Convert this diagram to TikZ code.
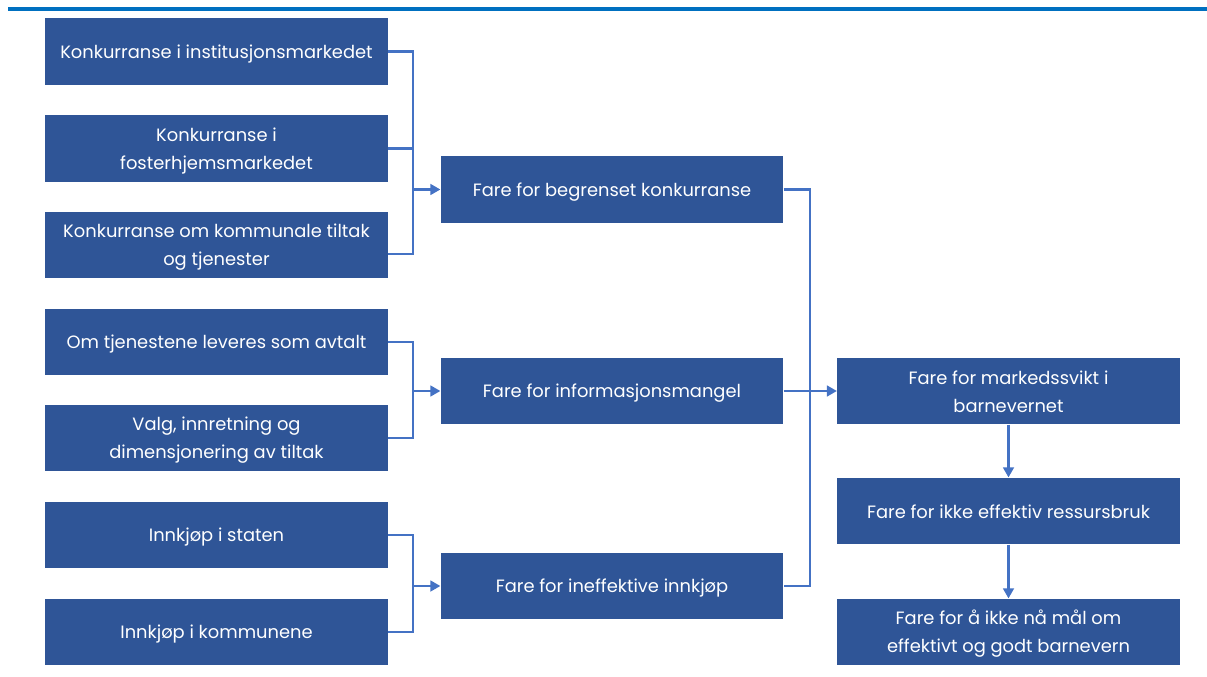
\documentclass[tikz,border=0pt]{standalone}
\usepackage{fontspec}
\setmainfont{Poppins}
\usetikzlibrary{arrows.meta,calc}
\definecolor{boxfill}{HTML}{2F5597}
\definecolor{conncol}{HTML}{4472C4}
\definecolor{topline}{HTML}{0070C0}
\newcommand{\ls}{\rule[-2.5pt]{0pt}{16pt}}
\tikzset{
  box/.style={draw=none, fill=boxfill, text=white, align=center,
    minimum width=257pt, minimum height=50pt, inner sep=0pt,
    font=\fontsize{13.4}{21}\selectfont},
  conn/.style={draw=conncol, line width=1.8pt},
  arr/.style={conn, -{Triangle[length=7.5pt,width=8pt]}}
}
\begin{document}
\begin{tikzpicture}[x=0.75pt,y=-0.75pt]
\useasboundingbox (0,0) rectangle (1207,677);
\draw[topline, line width=3pt] (8,9) -- (1207,9);
% left column
\node[box] (b1) at (216.5,51.5) {\ls Konkurranse i institusjonsmarkedet};
\node[box] (b2) at (216.5,148.5) {\ls Konkurranse i\\\ls fosterhjemsmarkedet};
\node[box] (b3) at (216.5,245) {\ls Konkurranse om kommunale tiltak\\\ls og tjenester};
\node[box] (b4) at (216.5,342) {\ls Om tjenestene leveres som avtalt};
\node[box] (b5) at (216.5,438) {\ls Valg, innretning og\\\ls dimensjonering av tiltak};
\node[box] (b6) at (216.5,535) {\ls Innkjøp i staten};
\node[box] (b7) at (216.5,632) {\ls Innkjøp i kommunene};
% middle column
\node[box] (mA) at (612,189.5) {\ls Fare for begrenset konkurranse};
\node[box] (mB) at (612,391) {\ls Fare for informasjonsmangel};
\node[box] (mC) at (612,586) {\ls Fare for ineffektive innkjøp};
% right column
\node[box] (r1) at (1008.5,391) {\ls Fare for markedssvikt i\\\ls barnevernet};
\node[box] (r2) at (1008.5,511) {\ls Fare for ikke effektiv ressursbruk};
\node[box] (r3) at (1008.5,632) {\ls Fare for å ikke nå mål om\\\ls effektivt og godt barnevern};
% junctions
\coordinate (j1) at (413,189.5);
\coordinate (j2) at (413,391);
\coordinate (j3) at (413,586);
\coordinate (j4) at (810,391);
% bracket 1
\draw[conn] (b1.east) -| (j1) |- ([yshift=-6.75pt]b3.east);
\draw[conn] (b2.east) -- (b2.east -| j1);
\draw[arr] (j1) -- (mA.west);
% bracket 2
\draw[conn] (b4.east) -| (j2) |- (b5.east);
\draw[arr] (j2) -- (mB.west);
% bracket 3
\draw[conn] (b6.east) -| (j3) |- (b7.east);
\draw[arr] (j3) -- (mC.west);
% right bracket
\draw[conn] (mA.east) -| (j4) |- (mC.east);
\draw[arr] (mB.east) -- (r1.west);
% vertical chain
\draw[arr] (r1.south) -- (r2.north);
\draw[arr] (r2.south) -- (r3.north);
\end{tikzpicture}
\end{document}
